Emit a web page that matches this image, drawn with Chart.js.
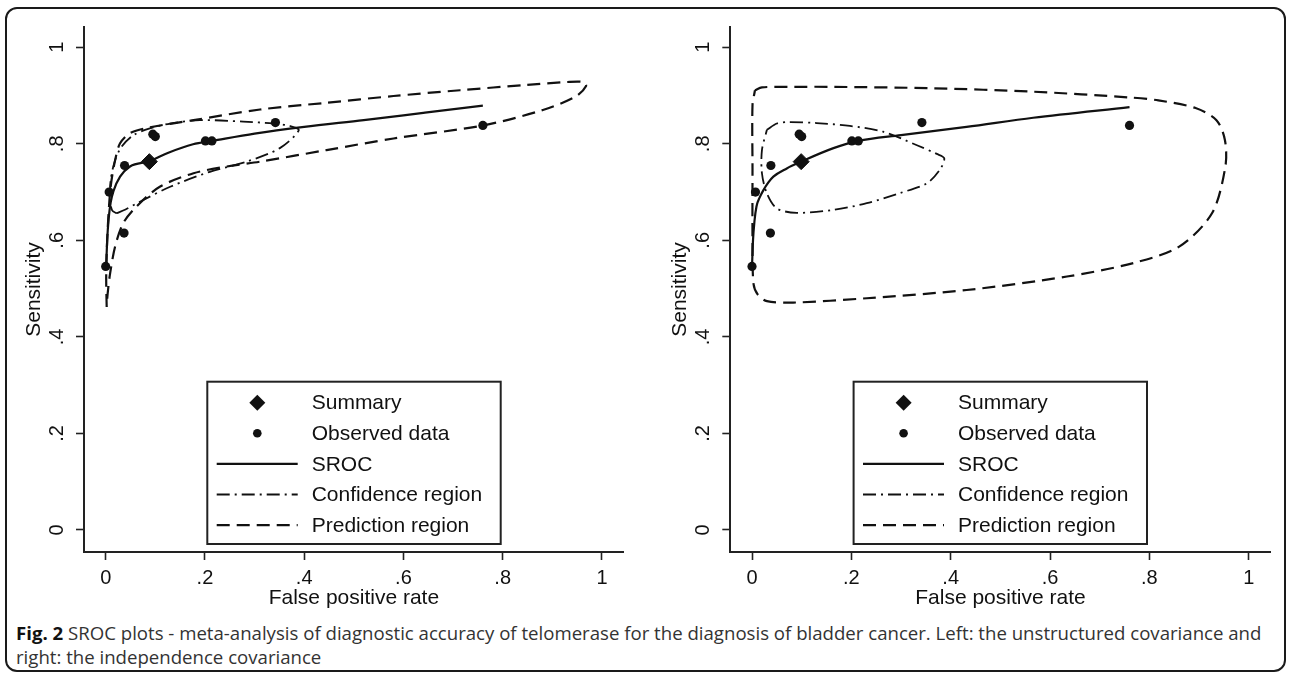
<!DOCTYPE html>
<html>
<head>
<meta charset="utf-8">
<script src="https://cdn.jsdelivr.net/npm/chart.js@4.4.0/dist/chart.umd.min.js"></script>
<style>
  html, body { margin: 0; padding: 0; background: #fff; }
  body { width: 1290px; height: 674px; position: relative; overflow: hidden; }
  #frame { position: absolute; left: 5px; top: 7px; width: 1277px; height: 661px;
           border: 2px solid #1a1a1a; border-radius: 12px; }
  #leftChart { position: absolute; left: 0; top: 0; }
  #rightChart { position: absolute; left: 640px; top: 0; }
  #caption { position: absolute; left: 16px; top: 621px; font-family: 'Open Sans', sans-serif;
             font-size: 17px; line-height: 24px; color: #333; white-space: nowrap; }
  #caption b { color: #111; }
</style>
</head>
<body>
<div id="frame"></div>
<canvas id="leftChart" width="640" height="615"></canvas>
<canvas id="rightChart" width="650" height="615"></canvas>
<div id="caption"><span id="capLine1"><b>Fig. 2</b> SROC plots - meta-analysis of diagnostic accuracy of telomerase for the diagnosis of bladder cancer. Left: the unstructured covariance and</span><br>right: the independence covariance</div>
<script>
// axis ticks
const xTicks = [0, 0.2, 0.4, 0.6, 0.8, 1];
const yTicks = [0, 0.2, 0.4, 0.6, 0.8, 1];
const tickLabels = ['0', '.2', '.4', '.6', '.8', '1'];
const legendLabels = ['Summary', 'Observed data', 'SROC', 'Confidence region', 'Prediction region'];

// observed studies (same in both panels)
const obsFpr  = [0.000, 0.007, 0.038, 0.037, 0.095, 0.100, 0.201, 0.214, 0.342, 0.760];
const obsSens = [0.546, 0.700, 0.755, 0.615, 0.820, 0.815, 0.806, 0.806, 0.844, 0.838];

// left: unstructured covariance
const leftSummaryFpr = [0.088];
const leftSummarySens = [0.763];
const leftSrocFpr  = [0.001, 0.003, 0.006, 0.010, 0.016, 0.029, 0.049, 0.088, 0.125, 0.176, 0.215, 0.300, 0.400, 0.520, 0.640, 0.760];
const leftSrocSens = [0.546, 0.600, 0.645, 0.678, 0.703, 0.732, 0.753, 0.764, 0.781, 0.799, 0.806, 0.821, 0.835, 0.849, 0.864, 0.879];
const leftConfFpr  = [0.022, 0.040, 0.069, 0.130, 0.210, 0.284, 0.351, 0.389, 0.371, 0.338, 0.277, 0.190, 0.130, 0.089, 0.056, 0.032, 0.019, 0.010, 0.009, 0.013, 0.022];
const leftConfSens = [0.656, 0.664, 0.680, 0.711, 0.742, 0.763, 0.791, 0.828, 0.837, 0.842, 0.846, 0.849, 0.842, 0.832, 0.818, 0.794, 0.766, 0.725, 0.684, 0.662, 0.656];
const leftPredFpr  = [0.002, 0.001, 0.002, 0.005, 0.010, 0.019, 0.029, 0.049, 0.089, 0.177, 0.311, 0.445, 0.580, 0.714, 0.848, 0.930, 0.962, 0.968, 0.947, 0.881, 0.760, 0.580, 0.445, 0.311, 0.244, 0.177, 0.109, 0.062, 0.035, 0.019, 0.009, 0.004, 0.002];
const leftPredSens = [0.462, 0.520, 0.573, 0.642, 0.711, 0.766, 0.801, 0.822, 0.834, 0.849, 0.871, 0.885, 0.899, 0.911, 0.922, 0.928, 0.928, 0.920, 0.898, 0.870, 0.838, 0.811, 0.787, 0.763, 0.753, 0.739, 0.711, 0.670, 0.635, 0.587, 0.532, 0.490, 0.462];

// right: independence covariance
const rightSummaryFpr = [0.099];
const rightSummarySens = [0.763];
const rightSrocFpr  = [0.000, 0.002, 0.005, 0.009, 0.016, 0.023, 0.033, 0.043, 0.070, 0.099, 0.164, 0.214, 0.300, 0.432, 0.566, 0.760];
const rightSrocSens = [0.546, 0.600, 0.640, 0.670, 0.690, 0.704, 0.720, 0.732, 0.749, 0.763, 0.791, 0.806, 0.818, 0.835, 0.854, 0.876];
const rightConfFpr  = [0.030, 0.050, 0.073, 0.130, 0.197, 0.264, 0.332, 0.372, 0.387, 0.378, 0.352, 0.298, 0.231, 0.164, 0.090, 0.050, 0.030, 0.020, 0.020, 0.030];
const rightConfSens = [0.829, 0.842, 0.845, 0.843, 0.837, 0.825, 0.797, 0.779, 0.770, 0.746, 0.718, 0.698, 0.677, 0.663, 0.657, 0.666, 0.697, 0.739, 0.787, 0.829];
const rightPredFpr  = [0.006, 0.020, 0.084, 0.164, 0.365, 0.566, 0.760, 0.818, 0.893, 0.935, 0.952, 0.953, 0.926, 0.860, 0.768, 0.634, 0.432, 0.231, 0.083, 0.030, 0.012, 0.003, 0.001, 0.001, 0.001, 0.006];
const rightPredSens = [0.911, 0.917, 0.918, 0.918, 0.915, 0.908, 0.896, 0.890, 0.874, 0.849, 0.808, 0.753, 0.656, 0.587, 0.553, 0.525, 0.497, 0.480, 0.471, 0.474, 0.487, 0.510, 0.600, 0.750, 0.880, 0.911];

const INK = '#111';
const predDash = [13, 7];
const confDash = [13, 5, 2, 5];

function toPoints(xs, ys) {
  return xs.map((x, i) => ({ x: x, y: ys[i] }));
}

// boxed legend inside the plot area, Stata style
const boxLegend = {
  id: 'boxLegend',
  afterDatasetsDraw(chart, args, opts) {
    const ctx = chart.ctx;
    const x0 = chart.chartArea.left + 123.3;
    const y0 = 381.7;
    ctx.save();
    ctx.fillStyle = '#fff';
    ctx.fillRect(x0, y0, 293.4, 162.3);
    ctx.lineWidth = 2;
    ctx.strokeStyle = '#222';
    ctx.strokeRect(x0, y0, 293.4, 162.3);

    const rowY = i => y0 + 21 + i * 30.6;
    const sx = x0 + 50;
    ctx.fillStyle = INK;
    // diamond
    ctx.beginPath();
    ctx.moveTo(sx - 8, rowY(0));
    ctx.lineTo(sx, rowY(0) - 8);
    ctx.lineTo(sx + 8, rowY(0));
    ctx.lineTo(sx, rowY(0) + 8);
    ctx.closePath();
    ctx.fill();
    // dot
    ctx.beginPath();
    ctx.arc(sx, rowY(1), 4.3, 0, Math.PI * 2);
    ctx.fill();
    // line samples
    const dashes = [[], confDash, predDash];
    const widths = [2.2, 1.8, 2.2];
    ctx.strokeStyle = INK;
    for (let k = 0; k < 3; k++) {
      ctx.setLineDash(dashes[k]);
      ctx.lineWidth = widths[k];
      ctx.beginPath();
      ctx.moveTo(x0 + 9.4, rowY(k + 2));
      ctx.lineTo(x0 + 90.4, rowY(k + 2));
      ctx.stroke();
    }
    ctx.setLineDash([]);
    ctx.font = "21px 'Liberation Sans', Arial, sans-serif";
    ctx.textBaseline = 'middle';
    ctx.textAlign = 'left';
    legendLabels.forEach((t, i) => ctx.fillText(t, x0 + 104.4, rowY(i) + 1));
    ctx.restore();
  }
};

function makePanel(canvasId, p) {
  const ctx = document.getElementById(canvasId).getContext('2d');
  return new Chart(ctx, {
    type: 'scatter',
    data: {
      datasets: [
        {
          label: 'Prediction region',
          data: toPoints(p.predFpr, p.predSens),
          showLine: true, pointRadius: 0, borderColor: INK, borderWidth: 2.2,
          borderDash: predDash, tension: 0.3, fill: false
        },
        {
          label: 'Confidence region',
          data: toPoints(p.confFpr, p.confSens),
          showLine: true, pointRadius: 0, borderColor: INK, borderWidth: 1.8,
          borderDash: confDash, tension: 0.3, fill: false
        },
        {
          label: 'SROC',
          data: toPoints(p.srocFpr, p.srocSens),
          showLine: true, pointRadius: 0, borderColor: INK, borderWidth: 2.2,
          cubicInterpolationMode: 'monotone', fill: false
        },
        {
          label: 'Observed data',
          data: toPoints(obsFpr, obsSens),
          showLine: false, pointStyle: 'circle', pointRadius: 4.6,
          backgroundColor: INK, borderColor: INK, borderWidth: 0
        },
        {
          label: 'Summary',
          data: toPoints(p.sumFpr, p.sumSens),
          showLine: false, pointStyle: 'rectRot', pointRadius: 8,
          backgroundColor: INK, borderColor: INK, borderWidth: 1
        }
      ]
    },
    options: {
      responsive: false,
      maintainAspectRatio: false,
      animation: false,
      events: [],
      layout: { padding: { left: 0, top: 27, right: p.padRight, bottom: 0 } },
      plugins: { legend: { display: false }, tooltip: { enabled: false } },
      scales: {
        x: {
          type: 'linear', min: -0.0437, max: 1.044,
          afterBuildTicks: s => { s.ticks = xTicks.map(v => ({ value: v })); },
          afterFit: s => { s.height = 63; },
          grid: { drawOnChartArea: false, drawTicks: true, tickLength: 8, tickColor: '#222', tickWidth: 1.6 },
          border: { display: true, color: '#222', width: 2 },
          ticks: {
            padding: 6, color: INK, autoSkip: false, maxRotation: 0,
            font: { family: "'Liberation Sans', Arial, sans-serif", size: 20 },
            callback: (v) => tickLabels[xTicks.indexOf(Math.round(v * 10) / 10)]
          },
          title: {
            display: true, text: 'False positive rate', color: INK,
            font: { family: "'Liberation Sans', Arial, sans-serif", size: 21 },
            padding: { top: 0, bottom: 4 }
          }
        },
        y: {
          type: 'linear', min: -0.0458, max: 1.042,
          afterBuildTicks: s => { s.ticks = yTicks.map(v => ({ value: v })); },
          afterFit: s => { s.width = p.yAxisWidth; },
          grid: { drawOnChartArea: false, drawTicks: true, tickLength: 8, tickColor: '#222', tickWidth: 1.6 },
          border: { display: true, color: '#222', width: 2 },
          ticks: {
            padding: 10, color: INK, autoSkip: false, minRotation: 90, maxRotation: 90,
            crossAlign: 'center',
            font: { family: "'Liberation Sans', Arial, sans-serif", size: 20 },
            callback: (v) => tickLabels[yTicks.indexOf(Math.round(v * 10) / 10)]
          },
          title: {
            display: true, text: 'Sensitivity', color: INK,
            font: { family: "'Liberation Sans', Arial, sans-serif", size: 21 },
            padding: { top: p.titlePad, bottom: 0 }
          }
        }
      }
    },
    plugins: [boxLegend]
  });
}

makePanel('leftChart', {
  sumFpr: leftSummaryFpr, sumSens: leftSummarySens,
  srocFpr: leftSrocFpr, srocSens: leftSrocSens,
  confFpr: leftConfFpr, confSens: leftConfSens,
  predFpr: leftPredFpr, predSens: leftPredSens,
  padRight: 16.2, yAxisWidth: 84, titlePad: 22
});
makePanel('rightChart', {
  sumFpr: rightSummaryFpr, sumSens: rightSummarySens,
  srocFpr: rightSrocFpr, srocSens: rightSrocSens,
  confFpr: rightConfFpr, confSens: rightConfSens,
  predFpr: rightPredFpr, predSens: rightPredSens,
  padRight: 19.4, yAxisWidth: 90.3, titlePad: 27.4
});

// fit the first caption line to the width it has in the figure
const line1 = document.getElementById('capLine1');
const cap = document.getElementById('caption');
const w = line1.getBoundingClientRect().width;
cap.style.fontSize = (17 * 1247 / w).toFixed(2) + 'px';
</script>
</body>
</html>
